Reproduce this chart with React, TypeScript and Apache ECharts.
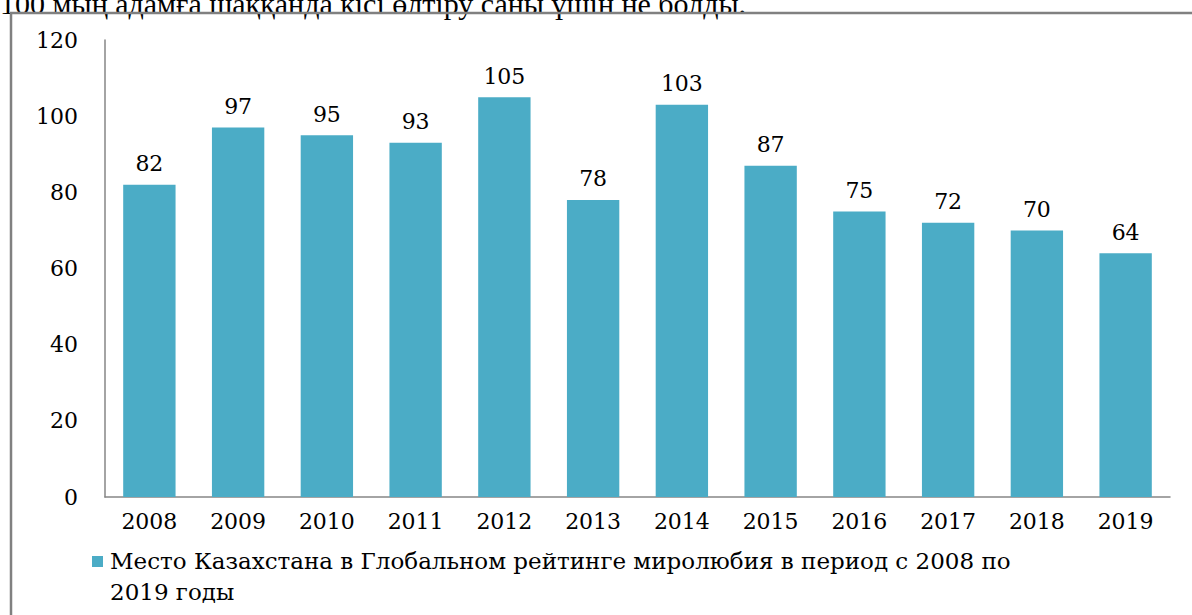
import React, { useEffect, useRef } from "react";
import * as echarts from "echarts";

const years = ["2008", "2009", "2010", "2011", "2012", "2013", "2014", "2015", "2016", "2017", "2018", "2019"];
const ranks = [82, 97, 95, 93, 105, 78, 103, 87, 75, 72, 70, 64];
const yTicks = { min: 0, max: 120, interval: 20 };
const seriesName = "Место Казахстана в Глобальном рейтинге миролюбия в период с 2008 по";
const seriesName2 = "2019 годы";
const headerText = "100 мың адамға шаққанда кісі өлтіру саны үшін не болды.";

const FONT = "DejaVu Serif";

export default function App() {
  const ref = useRef<HTMLDivElement>(null);
  useEffect(() => {
    const chart = echarts.init(ref.current!, null, { renderer: "svg" });
    chart.setOption({
      animation: false,
      backgroundColor: "#ffffff",
      grid: { left: 105, right: 22, top: 40, bottom: 118, containLabel: false },
      xAxis: {
        type: "category",
        data: years,
        axisLine: { show: true, lineStyle: { color: "#868686", width: 1.5 } },
        axisTick: { show: false },
        axisLabel: { color: "#000", fontFamily: FONT, fontSize: 22, margin: 13 },
      },
      yAxis: {
        type: "value",
        min: yTicks.min,
        max: yTicks.max,
        interval: yTicks.interval,
        axisLine: { show: true, lineStyle: { color: "#868686", width: 1.5 } },
        axisTick: { show: false },
        splitLine: { show: false },
        axisLabel: { color: "#000", fontFamily: FONT, fontSize: 22, margin: 27 },
      },
      series: [
        {
          type: "bar",
          name: seriesName,
          data: ranks,
          barCategoryGap: "41%",
          itemStyle: { color: "#4BACC6" },
          label: {
            show: true,
            position: "top",
            distance: 10,
            color: "#000",
            fontFamily: FONT,
            fontSize: 22,
          },
        },
      ],
      graphic: [
        {
          type: "text",
          left: 0,
          top: -12,
          style: { text: headerText, fontFamily: "Liberation Serif", fontSize: 30, fill: "#000" },
        },
        {
          type: "rect",
          shape: { x: 11, y: 13, width: 1200, height: 620 },
          style: { fill: "none", stroke: "#808080", lineWidth: 2.5 },
        },
        {
          type: "rect",
          shape: { x: 92, y: 556, width: 11, height: 11 },
          style: { fill: "#4BACC6" },
        },
        {
          type: "text",
          x: 110,
          y: 549,
          style: { text: seriesName, fontFamily: FONT, fontSize: 23, fill: "#000" },
        },
        {
          type: "text",
          x: 110,
          y: 580,
          style: { text: seriesName2, fontFamily: FONT, fontSize: 23, fill: "#000" },
        },
      ],
    });
    return () => chart.dispose();
  }, []);
  return <div ref={ref} style={{ position: "fixed", left: 0, top: 0, width: 1192, height: 615 }} />;
}
